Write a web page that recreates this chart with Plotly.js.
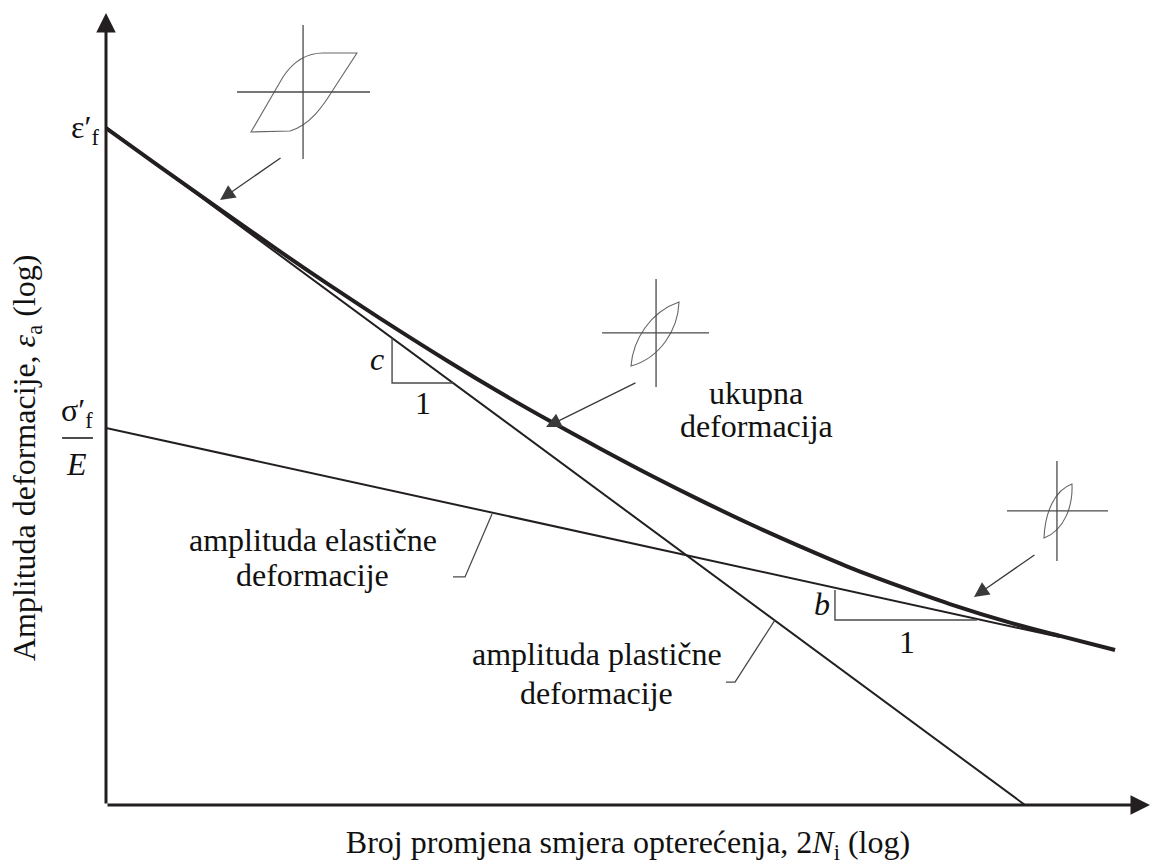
<!DOCTYPE html>
<html>
<head>
<meta charset="utf-8">
<script src="https://cdn.plot.ly/plotly-3.0.1.min.js"></script>
<style>html,body{margin:0;padding:0;background:#fff;}#chart{width:1154px;height:865px;}</style>
</head>
<body>
<div id="chart"></div>
<script>
// Schematic strain-life diagram: x = log(2N), y = log(strain amplitude), arbitrary units
const totalLogN   = [0, 0.414, 0.874, 1.310, 1.716, 2.100, 2.636, 3.019, 3.402, 3.785, 4.169, 4.552, 4.935, 5.318, 5.701, 6.084, 6.467, 6.927, 7.310, 7.732];
const totalLogEps = [-0.581, -0.777, -0.992, -1.194, -1.376, -1.542, -1.765, -1.917, -2.061, -2.199, -2.333, -2.460, -2.581, -2.694, -2.801, -2.896, -2.985, -3.079, -3.146, -3.217];
const plasticLogN   = [0, 7.042];
const plasticLogEps = [-0.576, -4.0];
const elasticLogN   = [0, 7.310];
const elasticLogEps = [-2.096, -3.152];
const cTriangleN   = [2.192, 2.192, 2.659];
const cTriangleEps = [-1.641, -1.869, -1.869];
const bTriangleN   = [5.586, 5.586, 6.674];
const bTriangleEps = [-2.914, -3.066, -3.066];
const elasticLeaderN   = [2.958, 2.751, 2.659];
const elasticLeaderEps = [-2.530, -2.848, -2.848];
const plasticLeaderN   = [5.126, 4.820, 4.751];
const plasticLeaderEps = [-3.066, -3.379, -3.379];

const xTitle = 'Broj promjena smjera opterećenja, 2<i>N</i><sub>i</sub> (log)';
const yTitle = 'Amplituda deformacije, <i>ε</i><sub>a</sub> (log)';

const FONT = 'Liberation Serif, Times New Roman, serif';
const INK = '#231f20';
const GRAY = '#4a4a4a';

const traces = [
  {x: plasticLogN, y: plasticLogEps, mode: 'lines', line: {color: INK, width: 2}, hoverinfo: 'skip', name: 'plastic'},
  {x: elasticLogN, y: elasticLogEps, mode: 'lines', line: {color: INK, width: 2}, hoverinfo: 'skip', name: 'elastic'},
  {x: totalLogN, y: totalLogEps, mode: 'lines', line: {color: INK, width: 4, shape: 'spline', smoothing: 1}, hoverinfo: 'skip', name: 'total'},
  {x: cTriangleN, y: cTriangleEps, mode: 'lines', line: {color: GRAY, width: 1.4}, hoverinfo: 'skip'},
  {x: bTriangleN, y: bTriangleEps, mode: 'lines', line: {color: GRAY, width: 1.4}, hoverinfo: 'skip'},
  {x: elasticLeaderN, y: elasticLeaderEps, mode: 'lines', line: {color: GRAY, width: 1.3}, hoverinfo: 'skip'},
  {x: plasticLeaderN, y: plasticLeaderEps, mode: 'lines', line: {color: GRAY, width: 1.3}, hoverinfo: 'skip'}
];

const loopLine = {color: '#666', width: 1.1};
const crossLine = {color: GRAY, width: 1.3};
const shapes = [
  // loop 1 (large plastic)
  {type: 'path', xref: 'x', yref: 'y', line: loopLine,
   path: 'M1.111,-0.601 L1.356,-0.323 C1.433,-0.247 1.525,-0.202 1.663,-0.202 L1.923,-0.202 L1.739,-0.389 C1.663,-0.470 1.563,-0.566 1.410,-0.596 Z'},
  {type: 'line', xref: 'x', yref: 'y', x0: 1.004, x1: 2.023, y0: -0.399, y1: -0.399, line: crossLine},
  {type: 'line', xref: 'x', yref: 'y', x0: 1.510, x1: 1.510, y0: -0.061, y1: -0.737, line: crossLine},
  // loop 2
  {type: 'path', xref: 'x', yref: 'y', line: loopLine,
   path: 'M4.023,-1.783 C4.038,-1.652 4.169,-1.510 4.391,-1.460 C4.383,-1.601 4.245,-1.742 4.023,-1.783 Z'},
  {type: 'line', xref: 'x', yref: 'y', x0: 3.801, x1: 4.621, y0: -1.616, y1: -1.616, line: crossLine},
  {type: 'line', xref: 'x', yref: 'y', x0: 4.215, x1: 4.215, y0: -1.343, y1: -1.889, line: crossLine},
  // loop 3
  {type: 'path', xref: 'x', yref: 'y', line: loopLine,
   path: 'M7.188,-2.652 C7.195,-2.520 7.272,-2.409 7.402,-2.379 C7.410,-2.485 7.349,-2.611 7.188,-2.652 Z'},
  {type: 'line', xref: 'x', yref: 'y', x0: 6.904, x1: 7.678, y0: -2.515, y1: -2.515, line: crossLine},
  {type: 'line', xref: 'x', yref: 'y', x0: 7.287, x1: 7.287, y0: -2.263, y1: -2.768, line: crossLine},
  // fraction bar sigma'f / E
  {type: 'line', xref: 'paper', yref: 'paper', x0: -0.0421, x1: -0.0125, y0: 0.4634, y1: 0.4634, line: {color: INK, width: 1.6}}
];

function txt(x, y, text, extra) {
  return Object.assign({x: x, y: y, xref: 'x', yref: 'y', text: text, showarrow: false,
    xanchor: 'center', yanchor: 'middle', font: {family: FONT, size: 32, color: '#111'}}, extra || {});
}
function itxt(x, y, text, extra) {
  return txt(x, y, text, Object.assign({font: {family: FONT, size: 32, color: '#111', style: 'italic'}}, extra || {}));
}
function arrow(tx, ty, hx, hy, color, width, size) {
  return {x: hx, y: hy, ax: tx, ay: ty, xref: 'x', yref: 'y', axref: 'x', ayref: 'y', text: '',
    showarrow: true, arrowhead: 2, arrowsize: size, arrowwidth: width, arrowcolor: color, standoff: 0, startstandoff: 0};
}
const P = {xref: 'paper', yref: 'paper'};

const annotations = [
  // axes with arrows
  arrow(0, -4, 0, 0, INK, 3, 1.3),
  arrow(0, -4, 8, -4, INK, 3, 1.3),
  // loop arrows
  arrow(1.349, -0.727, 0.874, -0.944, '#3a3a3a', 1.3, 2.3),
  arrow(4.069, -1.864, 3.372, -2.091, '#3a3a3a', 1.3, 2.3),
  arrow(7.126, -2.732, 6.651, -2.949, '#3a3a3a', 1.3, 2.3),
  // labels outside the plotting area (paper coordinates)
  txt(-0.0048, 0.8535, 'ε′<sub>f</sub>', Object.assign({xanchor: 'right'}, P)),
  txt(-0.0278, 0.4950, 'σ′<sub>f</sub>', P),
  itxt(-0.0278, 0.4310, 'E', P),
  txt(-0.0766, 0.4381, yTitle, Object.assign({textangle: -90}, P)),
  // labels in the diagram
  itxt(2.077, -1.747, 'c'),
  txt(2.429, -1.970, '1'),
  itxt(5.487, -2.985, 'b'),
  txt(6.138, -3.177, '1'),
  txt(4.981, -1.919, 'ukupna'),
  txt(4.981, -2.086, 'deformacija'),
  txt(1.586, -2.662, 'amplituda elastične'),
  txt(1.586, -2.838, 'deformacije'),
  txt(3.762, -3.237, 'amplituda plastične'),
  txt(3.762, -3.434, 'deformacije')
];

const layout = {
  width: 1154, height: 865,
  margin: {l: 106, r: 4, t: 13, b: 60},
  paper_bgcolor: '#fff', plot_bgcolor: '#fff',
  showlegend: false,
  xaxis: {range: [0, 8], showgrid: false, zeroline: false, showline: false, showticklabels: false, ticks: '',
    title: {text: xTitle, font: {family: FONT, size: 32, color: '#111'}, standoff: 37}, automargin: false, fixedrange: true},
  yaxis: {range: [-4, 0], showgrid: false, zeroline: false, showline: false, showticklabels: false, ticks: '', fixedrange: true},
  shapes: shapes,
  annotations: annotations
};

Plotly.newPlot('chart', traces, layout, {displayModeBar: false, staticPlot: true});
</script>
</body>
</html>
